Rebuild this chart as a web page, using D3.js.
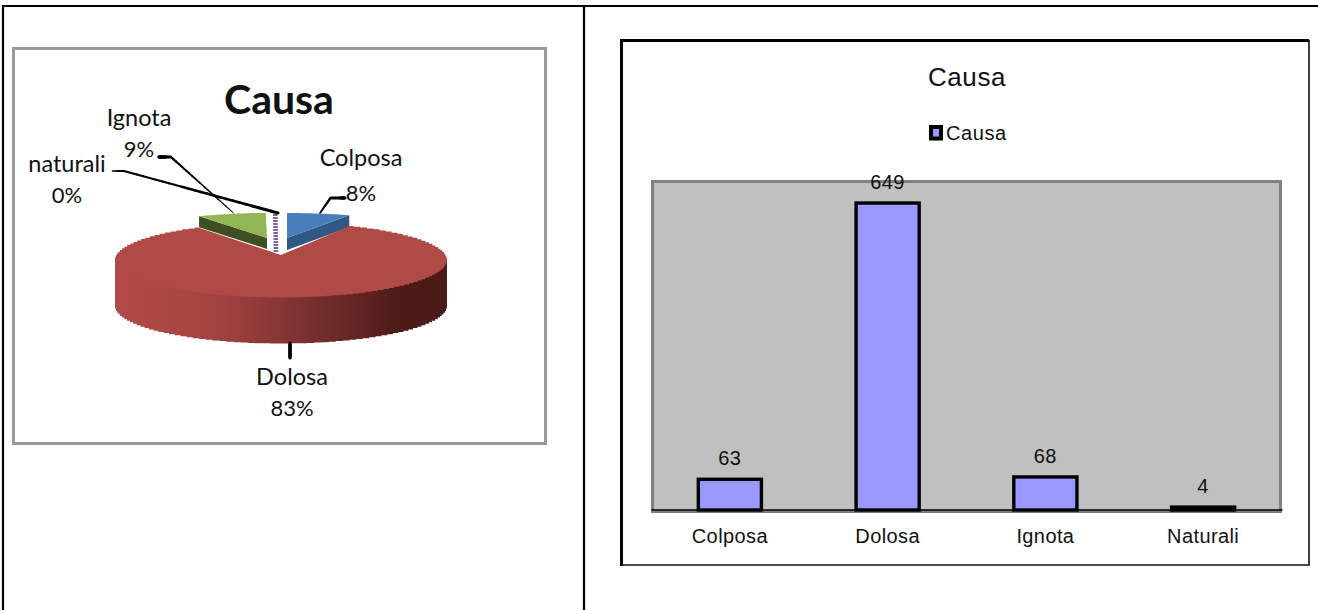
<!DOCTYPE html>
<html>
<head>
<meta charset="utf-8">
<script src="https://cdn.jsdelivr.net/npm/d3@7/dist/d3.min.js"></script>
<style>
html,body{margin:0;padding:0;background:#fff;overflow:hidden}
svg{display:block}
.l{font-family:Lato,"Open Sans",sans-serif;fill:#111}
.r{font-family:"Liberation Sans",Arial,sans-serif;fill:#111}
</style>
</head>
<body>
<svg id="c" width="1318" height="610"></svg>
<script>
// ---- data ----
const categories = ["Colposa", "Dolosa", "Ignota", "Naturali"];
const values = [63, 649, 68, 4];
const pieNames = ["Colposa", "Dolosa", "Ignota", "naturali"];
const piePercents = ["8%", "83%", "9%", "0%"];
const titleText = "Causa";
const legendText = "Causa";

// ---- layout ----
const svg = d3.select("#c");
const frame = (x, y, w, h, stroke, sw) => svg.append("rect")
  .attr("x", x).attr("y", y).attr("width", w).attr("height", h)
  .attr("fill", "none").attr("stroke", stroke).attr("stroke-width", sw);
const rule = (x1, y1, x2, y2, stroke, sw) => svg.append("line")
  .attr("x1", x1).attr("y1", y1).attr("x2", x2).attr("y2", y2)
  .attr("stroke", stroke).attr("stroke-width", sw);

// host table lines
rule(3, 6, 1318, 6, "#000", 2.2);
rule(3, 5, 3, 610, "#000", 2.2);
rule(584, 5, 584, 610, "#000", 2.2);

// ---- left: 3D pie ----
frame(13.5, 48.5, 532, 395, "#9a9a9a", 3);

const toRad = d => d * Math.PI / 180;
const arcs = d3.pie().sort(null).startAngle(0).endAngle(2 * Math.PI)(values);
// perspective warp of true pie angle to on-screen angle
const warp = d3.scaleLinear()
  .domain([0, 28.9, 90, 270, 326.9, 358, 360].map(toRad))
  .range([0, 24.5, 90, 270, 330, 359.4, 360].map(toRad));
const pt = (g, a) => {
  const t = warp(a);
  return [g.ax + g.rx * Math.sin(t), g.ay - g.ry * Math.cos(t)];
};
const span = (a0, a1, n) => d3.range(n + 1).map(i => a0 + (a1 - a0) * i / n);
const poly = d3.line();
const stair = d3.line().curve(d3.curveStep);

const geomColposa = {ax: 287, ay: 238, rx: 150, ry: 25, depth: 12};
const geomIgnota  = {ax: 267, ay: 238, rx: 136, ry: 25, depth: 11};
const geomNat     = {ax: 276, ay: 252, rx: 150, ry: 39, depth: 0};
const geomDolosa  = {cx: 281, cy: 260, ax: 281, ay: 255, rx: 166, ry: 37.5, depth: 46};
const piePalette = {
  colposa: ["#4a7ebb", "#2f5882"], ignota: ["#94b553", "#3e5023"],
  nat: "#7c5fa2", dolosa: "#b04a47"
};

const pg = svg.append("g");
const defs = svg.append("defs");
const grad = defs.append("linearGradient").attr("id", "wall")
  .attr("gradientUnits", "userSpaceOnUse").attr("x1", 115).attr("x2", 447).attr("y1", 0).attr("y2", 0);
[[0, "#b24b48"], [0.3, "#a34341"], [0.55, "#7f3331"], [0.85, "#4d1b19"], [1, "#4a1a18"]]
  .forEach(s => grad.append("stop").attr("offset", s[0]).attr("stop-color", s[1]));

function flatSlice(arc, g, cols, cutAngle) {
  const c = pt(g, cutAngle);
  pg.append("path").attr("fill", cols[1]).attr("d", poly([
    c, [g.ax, g.ay], [g.ax, g.ay + g.depth], [c[0], c[1] + g.depth]]) + "Z");
  const outer = span(arc.startAngle, arc.endAngle, 12).map(a => pt(g, a));
  pg.append("path").attr("fill", cols[0]).attr("d", poly([[g.ax, g.ay], ...outer]) + "Z");
}
flatSlice(arcs[0], geomColposa, piePalette.colposa, arcs[0].endAngle);
flatSlice(arcs[2], geomIgnota, piePalette.ignota, arcs[2].startAngle);

// naturali sliver
pg.append("path")
  .attr("d", poly([[geomNat.ax, geomNat.ay], pt(geomNat, (arcs[3].startAngle + arcs[3].endAngle) / 2)]))
  .attr("stroke", piePalette.nat).attr("stroke-width", 4.5).attr("stroke-dasharray", "2 1").attr("fill", "none");

// dolosa wall + top
const g = geomDolosa;
const rim = a => [g.cx + g.rx * Math.sin(a), g.cy - g.ry * Math.cos(a)];
const wallAngles = span(toRad(90), toRad(270), 70);
const wallArea = d3.area().curve(d3.curveStep).x(a => rim(a)[0]).y0(a => rim(a)[1] - 3).y1(a => rim(a)[1] + g.depth);
pg.append("path").attr("fill", "url(#wall)").attr("d", wallArea(wallAngles));
const d0 = arcs[1].startAngle, d1 = arcs[1].endAngle;
const topPts = span(d0, d1, 120).map(a => rim(warp(a)));
pg.append("path").attr("fill", piePalette.dolosa)
  .attr("d", poly([[g.ax, g.ay], topPts[0]]) + stair(topPts).replace(/^M/, "L") + "Z");

// tapered leader lines
function leader(pts, w0, w1) {
  const segs = [];
  for (let i = 0; i < pts.length - 1; i++) {
    const n = 24;
    for (let k = 0; k < n; k++) {
      segs.push([
        [pts[i][0] + (pts[i+1][0] - pts[i][0]) * k / n, pts[i][1] + (pts[i+1][1] - pts[i][1]) * k / n],
        [pts[i][0] + (pts[i+1][0] - pts[i][0]) * (k + 1) / n, pts[i][1] + (pts[i+1][1] - pts[i][1]) * (k + 1) / n]
      ]);
    }
  }
  svg.append("g").selectAll("path").data(segs).join("path")
    .attr("d", d => poly(d)).attr("fill", "none").attr("stroke", "#000").attr("stroke-linecap", "round")
    .attr("stroke-width", (d, i) => w0 + (w1 - w0) * i / (segs.length - 1));
}
leader([[320, 213], [330.5, 198], [345, 198]], 1.5, 3);
leader([[159, 157], [171, 157], [233.5, 213]], 3.5, 1);
leader([[112, 171], [124, 171], [278, 213]], 0.8, 3);
leader([[290, 343], [290, 358]], 3, 3);

const lt = (txt, x, y, size, weight) => svg.append("text").attr("class", "l")
  .attr("x", x).attr("y", y).attr("text-anchor", "middle")
  .attr("font-size", size).attr("font-weight", weight || 400).text(txt);
lt(titleText, 279, 114, 41, 700);
const pieLabelPos = [[361, 166, 201], [292, 385, 416], [139, 126, 157], [67, 172, 203]];
pieNames.forEach((n, i) => {
  lt(n, pieLabelPos[i][0], pieLabelPos[i][1], 23.5);
  lt(piePercents[i], pieLabelPos[i][0], pieLabelPos[i][2], 22);
});

// ---- right: bars ----
svg.append("path").attr("fill", "none").attr("stroke", "#000").attr("stroke-width", 3)
  .attr("d", poly([[621.5, 566], [621.5, 40.5], [1309, 40.5]]));
svg.append("path").attr("fill", "none").attr("stroke", "#111").attr("stroke-width", 1.6)
  .attr("d", poly([[621, 565], [1309, 565], [1309, 40]]));

const x = d3.scaleBand().domain(categories).range([651, 1282]).paddingInner(0.6).paddingOuter(0.3);
const y = d3.scaleLinear().domain([0, 700]).range([510, 180]);

svg.append("rect").attr("x", x.range()[0] + 1.5).attr("y", y.range()[1] + 1.5)
  .attr("width", x.range()[1] - x.range()[0] - 3).attr("height", y.range()[0] - y.range()[1])
  .attr("fill", "#c0c0c0").attr("stroke", "#808080").attr("stroke-width", 3);

svg.append("g").selectAll("rect").data(values).join("rect")
  .attr("x", (d, i) => x(categories[i]))
  .attr("y", d => y(d) - 1)
  .attr("width", x.bandwidth())
  .attr("height", d => y(0) - y(d) + 1)
  .attr("fill", "#9999ff").attr("stroke", "#000").attr("stroke-width", 3.4);

const axis = d3.axisBottom(x).tickSize(0).tickPadding(19);
const ag = svg.append("g").attr("transform", `translate(0,${y(0) - 0.5})`).call(axis);
ag.select(".domain").attr("stroke", "#000").attr("stroke-width", 1.6);
ag.selectAll("text").attr("class", "r").attr("font-size", 20).attr("letter-spacing", 0.4).attr("fill", "#111");

svg.append("g").selectAll("text").data(values).join("text").attr("class", "r")
  .attr("x", (d, i) => x(categories[i]) + x.bandwidth() / 2)
  .attr("y", d => y(d) - 15)
  .attr("text-anchor", "middle").attr("font-size", 20).attr("letter-spacing", 0.4).text(d => d);

svg.append("text").attr("class", "r").attr("x", 967).attr("y", 86)
  .attr("text-anchor", "middle").attr("font-size", 26).attr("letter-spacing", 0.6).text(titleText);
svg.append("rect").attr("x", 931).attr("y", 127).attr("width", 10).attr("height", 11.5)
  .attr("fill", "#9999ff").attr("stroke", "#000").attr("stroke-width", 4);
svg.append("text").attr("class", "r").attr("x", 946).attr("y", 140)
  .attr("font-size", 20).attr("letter-spacing", 0.6).text(legendText);
</script>
</body>
</html>
